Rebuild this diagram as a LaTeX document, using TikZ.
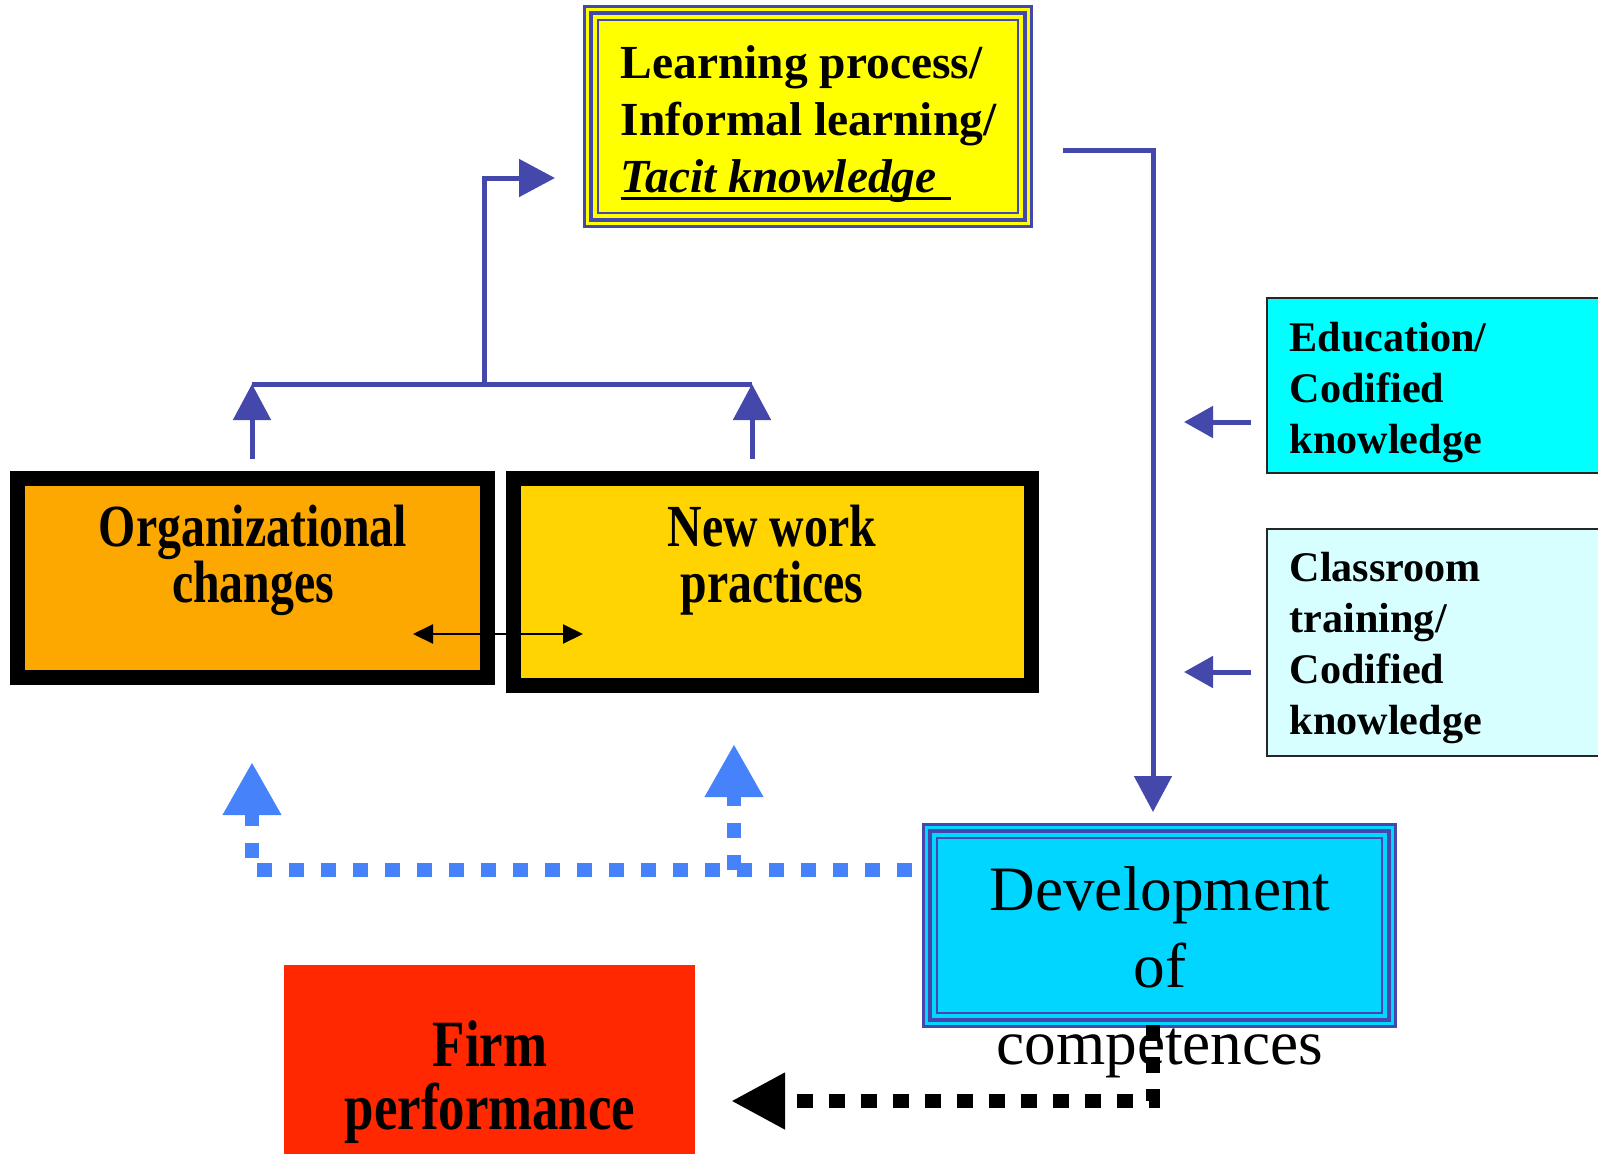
\documentclass[tikz,border=0pt]{standalone}
\usepackage{fontspec}
\setmainfont{Liberation Serif}
\newfontfamily\narrowserif[FakeStretch=0.8]{Liberation Serif}
\usetikzlibrary{arrows.meta,positioning}

\definecolor{linkblue}{RGB}{68,72,170}
\definecolor{dotblue}{RGB}{70,130,250}
\definecolor{learnyellow}{RGB}{255,255,0}
\definecolor{orgorange}{RGB}{252,168,0}
\definecolor{workgold}{RGB}{255,212,0}
\definecolor{educyan}{RGB}{0,255,255}
\definecolor{classcyan}{RGB}{215,255,255}
\definecolor{devcyan}{RGB}{0,214,255}
\definecolor{firmred}{RGB}{255,40,0}

% underline set close under the baseline
\newcommand\tightunder[1]{\setbox0\hbox{#1}\rlap{\rule[-2.3pt]{\wd0}{0.75pt}}\box0}

\tikzset{
    flowline/.style={draw=linkblue, line width=0.05cm},
    flow/.style={flowline, -{Triangle[length=0.36cm,width=0.37cm]}},
    sideflow/.style={flowline, -{Triangle[length=0.29cm,width=0.31cm]}},
    dotflow/.style={draw=dotblue, line width=0.14cm, dash pattern=on 0.15cm off 0.17cm,
        -{Triangle[length=0.53cm,width=0.55cm]}},
    blackflow/.style={draw=black, line width=0.14cm, dash pattern=on 0.16cm off 0.16cm,
        -{Triangle[length=0.54cm,width=0.53cm]}},
    thickbox/.style={draw=black, line width=0.15cm, inner sep=0pt},
    sidebox/.style={draw=black!85, line width=0.6pt, minimum width=3.53cm},
    sidetext/.style={align=left, anchor=base west, inner xsep=0pt, font=\bfseries\fontsize{12}{14.5}\selectfont},
    boxtext/.style={align=center, anchor=base, font=\narrowserif\bfseries\fontsize{17}{15.9}\selectfont}
}

% three blue bands round a box
\newcommand\bandframe[1]{%
    \foreach \inset/\lw in {0.013/0.026cm,0.078/0.045cm,0.145/0.025cm}
        \draw[linkblue, line width=\lw] ([shift={(\inset,-\inset)}]#1.north west)
            rectangle ([shift={(-\inset,\inset)}]#1.south east);}

\begin{document}
\begin{tikzpicture}
    \useasboundingbox (0,0) rectangle (15.98,-11.54);

    % boxes
    \node[fill=learnyellow, minimum width=4.48cm, minimum height=2.21cm] (learn) at (8.08,-1.165) {};
    \bandframe{learn}
    \node[align=left, anchor=base west, inner xsep=0pt, font=\bfseries\fontsize{13.5}{16.2}\selectfont] (learntext) at (6.20,-1.92)
        {Learning process/\\Informal learning/\\\tightunder{\textit{Tacit knowledge}\hspace{0.3em}}};

    \node[thickbox, fill=orgorange, minimum width=4.70cm, minimum height=1.99cm] (org) at (2.525,-5.78) {};
    \node[thickbox, fill=workgold, minimum width=5.18cm, minimum height=2.07cm] (work) at (7.725,-5.82) {};
    \node[boxtext] (orgtext) at (2.53,-6.02) {Organizational\\changes};
    \node[boxtext] (worktext) at (7.72,-6.02) {New work\\practices};

    \node[sidebox, fill=educyan, minimum height=1.75cm] (edu) at (14.435,-3.855) {};
    \node[sidetext] (edutext) at (12.89,-4.53) {Education/\\Codified\\knowledge};
    \node[sidebox, fill=classcyan, minimum height=2.27cm] (class) at (14.435,-6.425) {};
    \node[sidetext] (classtext) at (12.89,-7.34) {Classroom\\training/\\Codified\\knowledge};

    \node[fill=devcyan, minimum width=4.73cm, minimum height=2.03cm] (dev) at (11.595,-9.255) {};
    \bandframe{dev}
    \node[align=center, anchor=base, font=\fontsize{18}{21.8}\selectfont] (devtext) at (11.6,-10.64)
        {Development\\of\\competences};

    \node[fill=firmred, minimum width=4.11cm, minimum height=2.25cm] (firm) at (4.895,-10.775) {};
    \node[boxtext, font=\narrowserif\bfseries\fontsize{18.8}{17.9}\selectfont] (firmtext) at (4.9,-11.29)
        {Firm\\performance};

    % connector ends
    \coordinate (orgup) at (2.52,-4.59);
    \coordinate (workup) at (7.52,-4.59);
    \coordinate (joinL) at (2.52,-3.84);
    \coordinate (joinR) at (7.52,-3.84);
    \coordinate (joinM) at (4.84,-3.84);
    \coordinate (learnin) at (5.55,-1.78);
    \coordinate (learnout) at (10.63,-1.50);
    \coordinate (devin) at (11.53,-8.12);
    \coordinate (eduout) at (12.51,-4.22);
    \coordinate (eduin) at (11.84,-4.22);
    \coordinate (classout) at (12.51,-6.72);
    \coordinate (classin) at (11.84,-6.72);
    \coordinate (swapL) at (4.13,-6.34);
    \coordinate (swapR) at (5.83,-6.34);
    \coordinate (devleft) at (9.12,-8.70);
    \coordinate (dotsplit) at (7.34,-8.70);
    \coordinate (orgtip) at (2.52,-7.62);
    \coordinate (worktip) at (7.34,-7.44);
    \coordinate (devdown) at (11.53,-10.25);
    \coordinate (firmtip) at (7.31,-11.01);

    % blue links
    \draw[flow] (orgup) -- (joinL);
    \draw[flow] (workup) -- (joinR);
    \draw[flowline] (joinL) -- (joinR);
    \draw[flow] (joinM) |- (learnin);
    \draw[flow] (learnout) -| (devin);
    \draw[sideflow] (eduout) -- (eduin);
    \draw[sideflow] (classout) -- (classin);

    \draw[line width=0.6pt, {Triangle[length=0.2cm,width=0.19cm]}-{Triangle[length=0.2cm,width=0.19cm]}] (swapL) -- (swapR);

    % dotted links
    \draw[dotflow] (devleft) -| (orgtip);
    \draw[dotflow] (dotsplit) -- (worktip);
    \draw[blackflow] (devdown) |- (firmtip);
\end{tikzpicture}
\end{document}
